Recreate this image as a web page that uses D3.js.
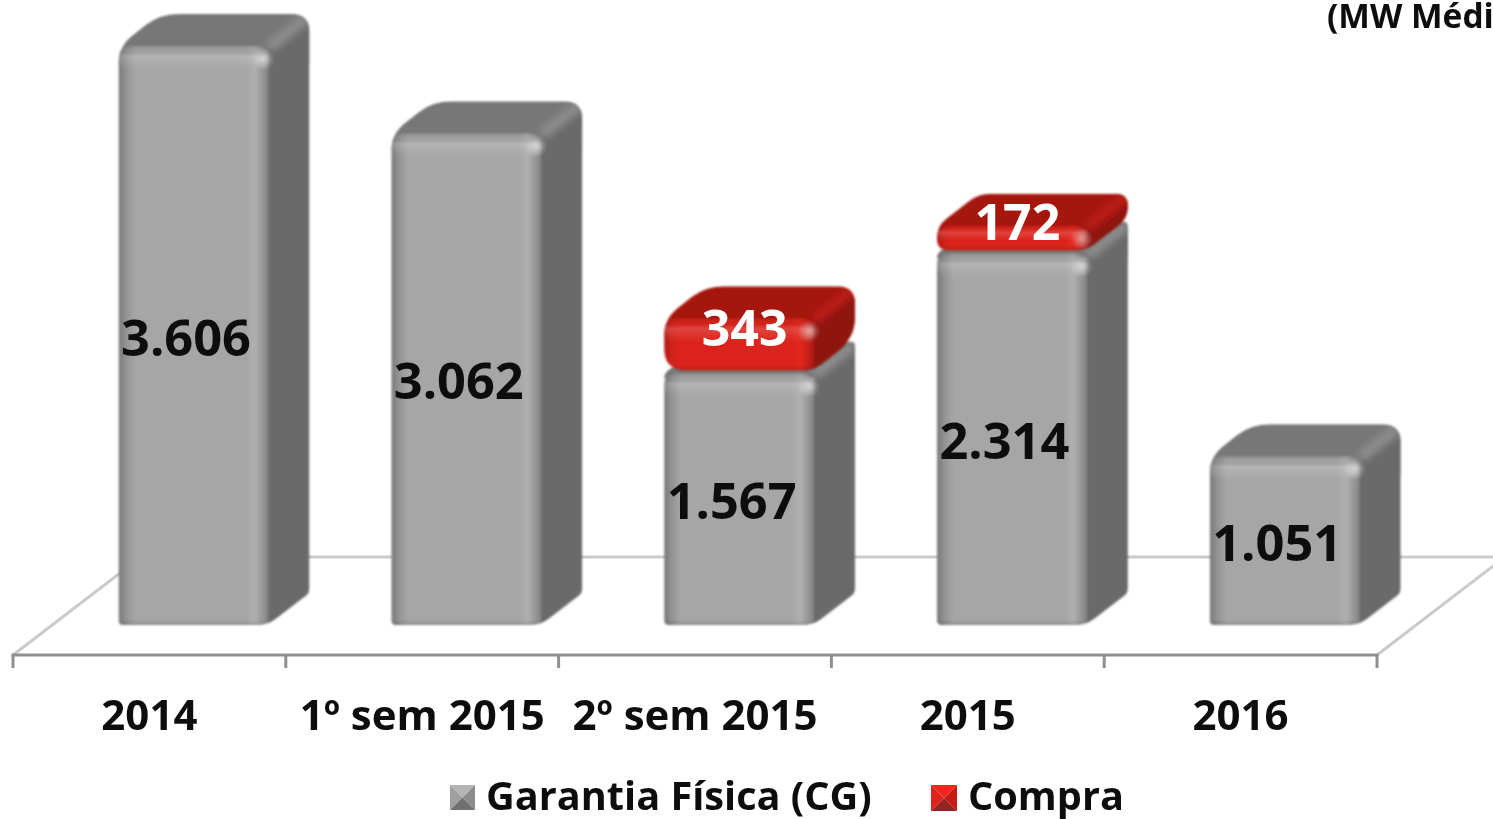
<!DOCTYPE html>
<html>
<head>
<meta charset="utf-8">
<script src="https://cdnjs.cloudflare.com/ajax/libs/d3/7.8.5/d3.min.js"></script>
<style>
  html, body { margin: 0; padding: 0; background: #fff; overflow: hidden; }
  text { font-family: "Open Sans", sans-serif; font-weight: 700; }
</style>
</head>
<body>
<svg id="chart" width="1493" height="819"></svg>
<script>
// chart values
const categories = ["2014", "1º sem 2015", "2º sem 2015", "2015", "2016"];
const garantia = [3606, 3062, 1567, 2314, 1051];
const compra = [0, 0, 343, 172, 0];
const legendLabels = ["Garantia Física (CG)", "Compra"];
const unitLabel = "(MW Médi";

const W = 1493, H = 819;
const baseY = 625, axisY = 655;
const depthX = 42, depthY = 32;
const barW = 149;

const svg = d3.select("#chart");
const defs = svg.append("defs");

const x = d3.scaleBand().domain(categories).range([13, 1377]);
const y = d3.scaleLinear().domain([0, 3606]).range([baseY, 46]);
const barLeft = (c) => x(c) + 105.5;

// gradients
function linear(id, stops, vertical) {
  const g = defs.append("linearGradient").attr("id", id)
    .attr("x1", 0).attr("y1", 0)
    .attr("x2", vertical ? 0 : 1).attr("y2", vertical ? 1 : 0);
  stops.forEach((s) => g.append("stop").attr("offset", s[0]).attr("stop-color", s[1]).attr("stop-opacity", s[2] === undefined ? 1 : s[2]));
}
linear("frontGray", [[0, "#787878"], [0.05, "#939393"], [0.11, "#a6a6a6"], [0.85, "#a6a6a6"], [0.91, "#b0b0b0"], [0.97, "#929292"], [1, "#808080"]]);
linear("frontRed", [[0, "#b01b14"], [0.05, "#d2211a"], [0.11, "#dc231b"], [0.85, "#dc231b"], [0.91, "#e4281f"], [0.97, "#bf1f17"], [1, "#a81811"]]);
linear("bevelTop", [[0, "#000", 0.14], [0.18, "#000", 0.03], [0.42, "#fff", 0.17], [0.62, "#fff", 0.1], [1, "#fff", 0]], true);
linear("bevelBottom", [[0, "#000", 0], [1, "#000", 0.16]], true);

const specular = defs.append("radialGradient").attr("id", "spec");
specular.append("stop").attr("offset", 0).attr("stop-color", "#fff").attr("stop-opacity", 0.55);
specular.append("stop").attr("offset", 1).attr("stop-color", "#fff").attr("stop-opacity", 0);

defs.append("filter").attr("id", "soft").attr("x", "-5%").attr("y", "-5%").attr("width", "110%").attr("height", "110%")
  .append("feGaussianBlur").attr("stdDeviation", 0.8);
defs.append("filter").attr("id", "ridge").attr("x", "-30%").attr("y", "-30%").attr("width", "160%").attr("height", "160%")
  .append("feGaussianBlur").attr("stdDeviation", 3);
defs.append("filter").attr("id", "softText").attr("x", "-5%").attr("y", "-10%").attr("width", "110%").attr("height", "120%")
  .append("feGaussianBlur").attr("stdDeviation", 0.45);

const colors = {
  Gray: { top: "#777777", side: "#6a6a6a", ridge: "#8a8a8a" },
  Red: { top: "#a51610", side: "#8e140e", ridge: "#b81c14" },
};

const root = svg.append("g");

// floor
const floor = root.append("g").attr("fill", "none").attr("stroke", "#cbcbcb").attr("stroke-width", 3);
floor.append("line").attr("x1", 13).attr("y1", axisY).attr("x2", 141).attr("y2", 557);
floor.append("line").attr("x1", 141).attr("y1", 557).attr("x2", W).attr("y2", 557);
floor.append("line").attr("x1", 1377).attr("y1", axisY).attr("x2", 1505).attr("y2", 557);

// category axis
const axis = root.append("g").attr("transform", `translate(0,${axisY})`);
axis.append("line").attr("x1", 11.5).attr("x2", 1378.5).attr("stroke", "#8f8f8f").attr("stroke-width", 3);
axis.selectAll(".tick").data([...categories.map((c) => x(c)), 1377]).join("line")
  .attr("x1", (d) => d).attr("x2", (d) => d).attr("y1", 0).attr("y2", 13)
  .attr("stroke", "#8f8f8f").attr("stroke-width", 3);

// one rounded 3d block
function block(g, left, top, bottom, key, clipId, capped) {
  const c = colors[key];
  const right = left + barW;
  const h = bottom - top;
  // a block under a red cap keeps its back corner sharp so its side reaches the cap
  const r = capped ? 5 : Math.min(18, h / 2);
  const rb = key === "Red" ? Math.min(r * 1.25, h / 2) : 5;
  const t = top - depthY, br = right + depthX;

  const outline = d3.path();
  outline.moveTo(left, bottom - rb);
  outline.lineTo(left, top + r);
  outline.quadraticCurveTo(left, top, left + r * 0.8, top - r * 0.6);
  outline.lineTo(left + depthX - r * 0.8, t + r * 0.6);
  outline.quadraticCurveTo(left + depthX, t, left + depthX + r, t);
  outline.lineTo(br - r, t);
  outline.quadraticCurveTo(br, t, br, t + r);
  outline.lineTo(br, bottom - depthY - rb);
  outline.quadraticCurveTo(br, bottom - depthY, br - rb * 0.8, bottom - depthY + rb * 0.6);
  outline.lineTo(right + 8, bottom - 6);
  outline.quadraticCurveTo(right, bottom, right - 12, bottom);
  outline.lineTo(left + rb, bottom);
  outline.quadraticCurveTo(left, bottom, left, bottom - rb);
  outline.closePath();

  defs.append("clipPath").attr("id", clipId).append("path").attr("d", outline.toString());
  const s = g.append("g").attr("clip-path", `url(#${clipId})`);

  // top face
  s.append("rect").attr("x", left).attr("y", t).attr("width", barW + depthX).attr("height", depthY + r)
    .attr("fill", c.top);

  // side face
  const side = d3.path();
  side.moveTo(right, top + 6);
  side.lineTo(br, t + 6);
  side.lineTo(br, bottom);
  side.lineTo(right, bottom);
  side.closePath();
  s.append("path").attr("d", side.toString()).attr("fill", c.side);

  // lighter ridge between top and side
  s.append("line")
    .attr("x1", right + 2).attr("y1", top + 1)
    .attr("x2", br - 3).attr("y2", t + 4)
    .attr("stroke", c.ridge).attr("stroke-width", 12).attr("filter", "url(#ridge)");

  // front face
  s.append("rect").attr("x", left).attr("y", top).attr("width", barW + 1).attr("height", h + 20)
    .attr("rx", 11).attr("fill", `url(#front${key})`);
  s.append("rect").attr("x", left).attr("y", top).attr("width", barW + 1).attr("height", Math.min(24, h * 0.6))
    .attr("rx", 11).attr("fill", "url(#bevelTop)");
  s.append("rect").attr("x", left).attr("y", bottom - 5).attr("width", barW + 4).attr("height", 5)
    .attr("fill", "url(#bevelBottom)");

  // highlight at the front top right corner
  s.append("circle").attr("cx", right - 4).attr("cy", top + 13).attr("r", 11).attr("fill", "url(#spec)");
}

const bars = root.append("g");
categories.forEach((c, i) => {
  const g = bars.append("g").attr("filter", "url(#soft)");
  block(g, barLeft(c), y(garantia[i]), baseY, "Gray", `clip-g-${i}`, compra[i] > 0);
});
categories.forEach((c, i) => {
  if (!compra[i]) return;
  const g = bars.append("g").attr("filter", "url(#soft)");
  block(g, barLeft(c), y(garantia[i] + compra[i]), y(garantia[i]) - 3, "Red", `clip-r-${i}`, false);
});

// value labels
const labelFmt = (v) => d3.format(",")(v).replace(",", ".");
const labels = root.append("g").attr("text-anchor", "middle").attr("filter", "url(#softText)");
categories.forEach((c, i) => {
  labels.append("text")
    .attr("x", barLeft(c) + barW / 2 - 7)
    .attr("y", (y(garantia[i]) + baseY) / 2 + 20)
    .attr("font-size", 50.5).attr("fill", "#0d0d0d")
    .text(labelFmt(garantia[i]));
  if (compra[i]) {
    labels.append("text")
      .attr("x", barLeft(c) + barW / 2 + 6)
      .attr("y", (y(garantia[i] + compra[i]) + y(garantia[i])) / 2 + 0.5)
      .attr("font-size", 50).attr("fill", "#fff")
      .text(labelFmt(compra[i]));
  }
});

// category labels
labels.selectAll(".cat").data(categories).join("text")
  .attr("x", (d) => x(d) + x.bandwidth() / 2)
  .attr("y", 729.5)
  .attr("font-size", 42).attr("fill", "#111")
  .text((d) => d);

// unit note, cut by the page edge as in the picture
root.append("text").attr("x", 1327).attr("y", 28).attr("font-size", 33.5).attr("fill", "#0d0d0d")
  .attr("filter", "url(#softText)").text(unitLabel);

// legend
function swatch(g, x0, y0, s, cols) {
  const m = s / 2;
  const tris = [
    [[0, 0], [s, 0], [m, m]],
    [[0, 0], [0, s], [m, m]],
    [[s, 0], [s, s], [m, m]],
    [[0, s], [s, s], [m, m]],
  ];
  tris.forEach((t, k) => g.append("path")
    .attr("d", d3.line()(t.map((p) => [x0 + p[0], y0 + p[1]])) + "Z")
    .attr("fill", cols[k]));
}
const legend = root.append("g").attr("filter", "url(#softText)");
swatch(legend, 450, 785, 25, ["#b5b5b5", "#a0a0a0", "#8c8c8c", "#707070"]);
swatch(legend, 931, 785, 26, ["#f0251c", "#e0231a", "#c51e16", "#962320"]);
legend.append("text").attr("x", 486).attr("y", 810).attr("font-size", 39.7).attr("fill", "#111").text(legendLabels[0]);
legend.append("text").attr("x", 968).attr("y", 810).attr("font-size", 39.7).attr("fill", "#111").text(legendLabels[1]);
</script>
</body>
</html>
